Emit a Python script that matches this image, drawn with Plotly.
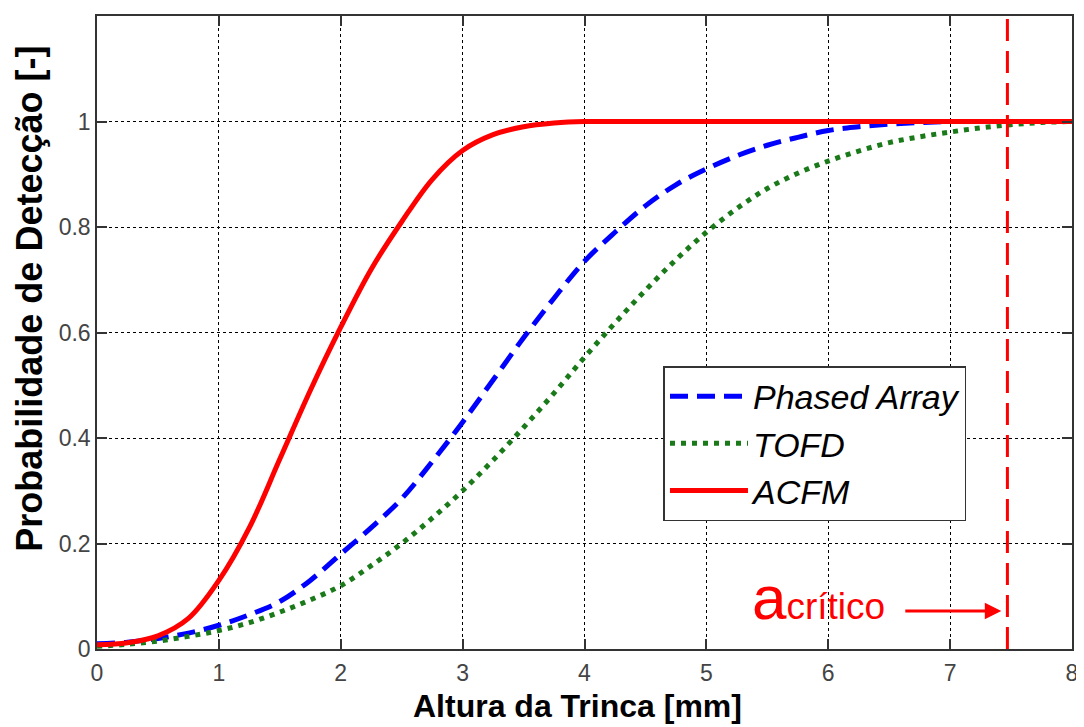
import plotly.graph_objects as go

# ---- data ----
crack_height_mm = [0, 0.25, 0.5, 0.75, 1.0, 1.25, 1.5, 1.75, 2.0, 2.25, 2.5, 2.75,
                   3.0, 3.25, 3.5, 3.75, 4.0, 4.25, 4.5, 4.75, 5.0, 5.25, 5.5, 5.75,
                   6.0, 6.25, 6.5, 6.75, 7.0, 7.25, 7.5, 7.75, 8.0]
pod_phased_array = [0.010, 0.013, 0.020, 0.030, 0.045, 0.065, 0.090, 0.130, 0.180, 0.230,
                    0.285, 0.355, 0.430, 0.510, 0.590, 0.665, 0.735, 0.790, 0.840, 0.880,
                    0.910, 0.935, 0.955, 0.970, 0.983, 0.990, 0.995, 0.998, 1.000, 1.000,
                    1.000, 1.000, 1.000]
pod_tofd = [0.005, 0.009, 0.015, 0.024, 0.035, 0.050, 0.070, 0.093, 0.120, 0.158,
            0.200, 0.248, 0.300, 0.358, 0.420, 0.485, 0.553, 0.618, 0.680, 0.738,
            0.790, 0.835, 0.873, 0.902, 0.925, 0.944, 0.960, 0.971, 0.980, 0.988,
            0.994, 0.998, 1.000]
pod_acfm = [0.008, 0.012, 0.025, 0.058, 0.130, 0.230, 0.360, 0.490, 0.610, 0.720,
            0.810, 0.890, 0.945, 0.975, 0.990, 0.997, 1.000, 1.000, 1.000, 1.000,
            1.000, 1.000, 1.000, 1.000, 1.000, 1.000, 1.000, 1.000, 1.000, 1.000,
            1.000, 1.000, 1.000]
series_names = ["<i>Phased Array</i>", "<i>TOFD</i>", "<i>ACFM</i>"]
a_critical_mm = 7.47
x_tick_vals = [0, 1, 2, 3, 4, 5, 6, 7, 8]
y_tick_vals = [0, 0.2, 0.4, 0.6, 0.8, 1.0]
y_tick_text = ["0", "0.2", "0.4", "0.6", "0.8", "1"]

FONT = "Liberation Sans, Arial, sans-serif"

fig = go.Figure()
fig.add_trace(go.Scatter(x=crack_height_mm, y=pod_phased_array, mode="lines",
                         name=series_names[0], line_shape="spline",
                         line=dict(color="#0000ff", width=5, dash="18px,9px")))
fig.add_trace(go.Scatter(x=crack_height_mm, y=pod_tofd, mode="lines",
                         name=series_names[1], line_shape="spline",
                         line=dict(color="#1a7a1a", width=5, dash="5px,6px")))
fig.add_trace(go.Scatter(x=crack_height_mm, y=pod_acfm, mode="lines",
                         name=series_names[2], line_shape="spline",
                         line=dict(color="#ff0000", width=5)))

# critical crack height line
fig.add_shape(type="line", xref="x", yref="paper", x0=a_critical_mm, x1=a_critical_mm,
              y0=0, y1=1, line=dict(color="#ff0000", width=3, dash="22px,10px"), layer="above")

# a_critico label and arrow
fig.add_annotation(x=6.48, y=0.097, xref="x", yref="y", xanchor="right", yanchor="middle",
                   text='<span style="font-size:62px">a</span>crítico', showarrow=False,
                   font=dict(family=FONT, size=37, color="#ff0000"))
fig.add_annotation(x=7.42, y=0.072, ax=6.62, ay=0.072, xref="x", yref="y", axref="x", ayref="y",
                   text="", showarrow=True, arrowhead=2, arrowsize=1.1, arrowwidth=3,
                   arrowcolor="#ff0000")

# axis titles
fig.add_annotation(x=0.493, y=-0.058, xref="paper", yref="paper", xanchor="center", yanchor="top",
                   text="<b>Altura da Trinca [mm]</b>", showarrow=False,
                   font=dict(family=FONT, size=32, color="#000000"))
fig.add_annotation(x=-0.069, y=0.553, xref="paper", yref="paper", xanchor="center", yanchor="middle",
                   text="<b>Probabilidade de Detecção [-]</b>", showarrow=False, textangle=-90,
                   font=dict(family=FONT, size=36, color="#000000"))

axis_common = dict(showline=True, linecolor="#333333", linewidth=1.5, mirror="allticks",
                   ticks="inside", ticklen=10, tickwidth=1.5, tickcolor="#333333",
                   showgrid=True, gridcolor="#000000", gridwidth=1, griddash="dot",
                   zeroline=False, tickfont=dict(family=FONT, size=23, color="#444444"))

fig.update_xaxes(range=[0, 8], tickvals=x_tick_vals, ticklabelstandoff=3, **axis_common)
fig.update_yaxes(range=[0, 1.2], tickvals=y_tick_vals, ticktext=y_tick_text, **axis_common)

fig.update_layout(
    width=1076, height=719,
    margin=dict(l=89, r=10, t=6, b=78),
    paper_bgcolor="white", plot_bgcolor="white",
    showlegend=True,
    legend=dict(x=0.581, y=0.447, xanchor="left", yanchor="top",
                bgcolor="white", bordercolor="#333333", borderwidth=1.5,
                font=dict(family=FONT, size=34, color="#000000"),
                itemwidth=78, tracegroupgap=0),
)

fig.write_html("out.html")
